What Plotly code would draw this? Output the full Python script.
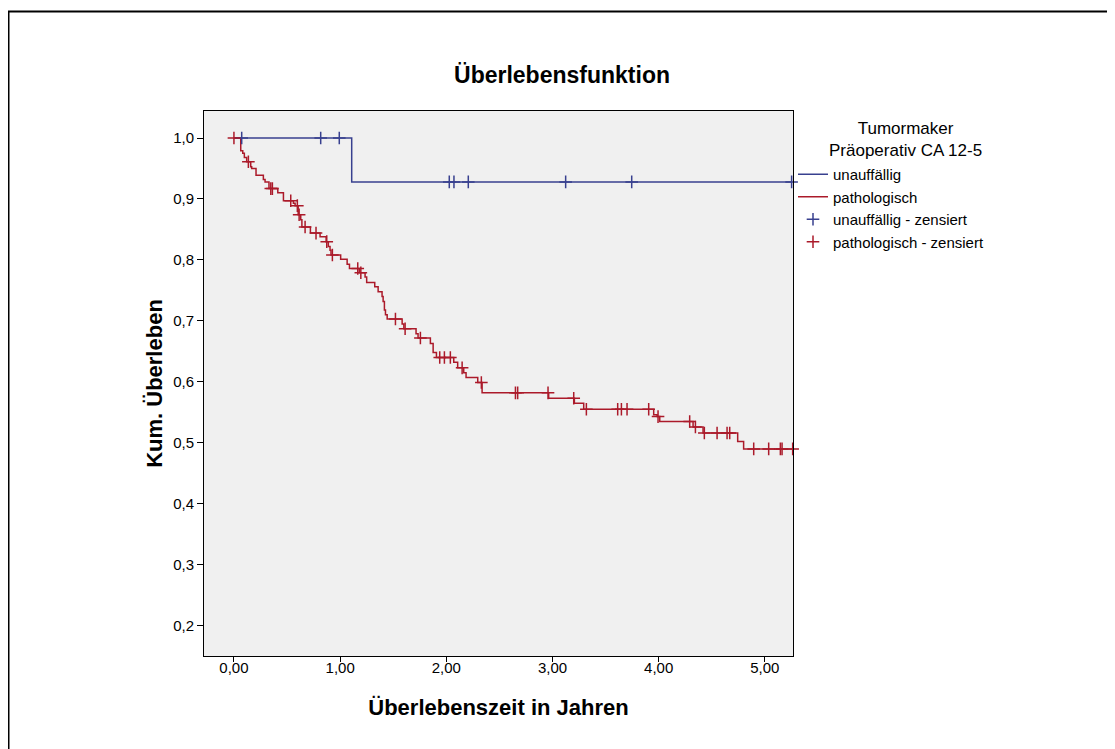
import numpy as np
import plotly.graph_objects as go

# ---- data ----
x_ticks = [0, 1, 2, 3, 4, 5]
y_ticks = [0.2, 0.3, 0.4, 0.5, 0.6, 0.7, 0.8, 0.9, 1.0]

blue_event_t = [1.109]
blue_event_s = [0.928]
blue_censor_t = [0.073, 0.817, 0.992, 2.028, 2.072, 2.207, 3.124, 3.746, 5.252]

red_event_t = [0.064, 0.083, 0.098, 0.120, 0.158, 0.167, 0.208, 0.277, 0.293, 0.330,
               0.413, 0.466, 0.560, 0.576, 0.605, 0.629, 0.640, 0.720, 0.811, 0.868,
               0.889, 0.905, 0.914, 1.005, 1.066, 1.088, 1.180, 1.235, 1.250, 1.326,
               1.358, 1.395, 1.405, 1.417, 1.427, 1.443, 1.584, 1.600, 1.715, 1.734,
               1.850, 1.876, 1.907, 2.070, 2.107, 2.164, 2.186, 2.296, 2.337, 2.964,
               3.206, 3.294, 3.953, 3.985, 4.010, 4.324, 4.418, 4.744, 4.800]
red_event_s = [0.979, 0.975, 0.968, 0.961, 0.953, 0.950, 0.939, 0.932, 0.928, 0.917,
               0.910, 0.897, 0.893, 0.889, 0.874, 0.866, 0.854, 0.844, 0.838, 0.830,
               0.822, 0.816, 0.808, 0.801, 0.793, 0.786, 0.779, 0.772, 0.763, 0.756,
               0.748, 0.740, 0.732, 0.718, 0.710, 0.703, 0.695, 0.687, 0.679, 0.672,
               0.663, 0.648, 0.640, 0.632, 0.623, 0.615, 0.607, 0.599, 0.582, 0.573,
               0.565, 0.555, 0.546, 0.543, 0.535, 0.526, 0.516, 0.502, 0.490]
red_censor_t = [0.0, 0.136, 0.347, 0.362, 0.535, 0.597, 0.614, 0.670, 0.773, 0.874,
                0.927, 1.166, 1.195, 1.521, 1.612, 1.756, 1.938, 1.982, 2.038, 2.149,
                2.330, 2.651, 2.672, 2.958, 3.200, 3.319, 3.614, 3.649, 3.702, 3.906,
                3.994, 4.292, 4.346, 4.430, 4.550, 4.644, 4.669, 4.895, 5.036, 5.146,
                5.162, 5.262]

BLUE = "#38408f"
RED = "#ab1a2a"
FONT = "Liberation Sans, Arial, sans-serif"


def step_xy(ev_t, ev_s, end_t):
    xs = [0.0] + list(ev_t) + [end_t]
    ys = [1.0] + list(ev_s) + [ev_s[-1]]
    return xs, ys


def surv_at(ev_t, ev_s, times):
    idx = np.searchsorted(np.array(ev_t), np.array(times), side="right")
    levels = np.array([1.0] + list(ev_s))
    return levels[idx]


bx, by = step_xy(blue_event_t, blue_event_s, max(blue_censor_t))
rx, ry = step_xy(red_event_t, red_event_s, max(red_censor_t))

fig = go.Figure()
fig.add_trace(go.Scatter(x=bx, y=by, mode="lines", line=dict(color=BLUE, width=1.5, shape="hv"),
                         name="unauffällig", hoverinfo="skip"))
fig.add_trace(go.Scatter(x=rx, y=ry, mode="lines", line=dict(color=RED, width=1.5, shape="hv"),
                         name="pathologisch", hoverinfo="skip"))
fig.add_trace(go.Scatter(x=blue_censor_t, y=surv_at(blue_event_t, blue_event_s, blue_censor_t),
                         mode="markers",
                         marker=dict(symbol="cross-thin", size=9, line=dict(color=BLUE, width=1.5)),
                         name="unauffällig - zensiert", cliponaxis=False))
fig.add_trace(go.Scatter(x=red_censor_t, y=surv_at(red_event_t, red_event_s, red_censor_t),
                         mode="markers",
                         marker=dict(symbol="cross-thin", size=9, line=dict(color=RED, width=1.5)),
                         name="pathologisch - zensiert", cliponaxis=False))

# figure size matches the page area (the page adds an 8px body margin)
W, H = 1107, 741
# plot area in figure pixels
L, R, T, B = 196, 785, 103, 648
pw, ph = R - L, B - T


def px2paper_x(px):
    return (px - L) / pw


def px2paper_y(py):
    return (B - py) / ph


fig.update_layout(
    width=W, height=H,
    margin=dict(l=L, r=W - R, t=T, b=H - B, autoexpand=False),
    paper_bgcolor="white",
    plot_bgcolor="#f0f0f0",
    separators=",.",
    font=dict(family=FONT, size=15, color="black"),
    title=dict(text="<b>Überlebensfunktion</b>", x=554 / W, xanchor="center",
               y=1 - 67 / H, yanchor="middle", yref="container",
               font=dict(size=23, family=FONT, color="black")),
    showlegend=True,
    legend=dict(xref="container", yref="container", x=785 / W, y=1 - 150 / H,
                xanchor="left", yanchor="top", bgcolor="rgba(0,0,0,0)",
                font=dict(size=15, family=FONT, color="black"),
                tracegroupgap=0, itemwidth=30, traceorder="normal"),
    xaxis=dict(range=[-0.282, 5.265], tickvals=x_ticks, tickformat=".2f",
               showgrid=False, zeroline=False, showline=True, linecolor="black",
               linewidth=1, mirror=True, ticks="outside", ticklen=5, tickcolor="black",
               ticklabelstandoff=-7,
               tickfont=dict(size=15, family=FONT),
               title=dict(text="<b>Überlebenszeit in Jahren</b>", standoff=24,
                          font=dict(size=22, family=FONT))),
    yaxis=dict(range=[0.1503, 1.0443], tickvals=y_ticks, tickformat=".1f",
               showgrid=False, zeroline=False, showline=True, linecolor="black",
               linewidth=1, mirror=True, ticks="outside", ticklen=6, tickcolor="black",
               tickfont=dict(size=15, family=FONT),
               title=dict(text="<b>Kum. Überleben</b>", standoff=4,
                          font=dict(size=22, family=FONT))),
)

# legend title (two centred lines)
fig.add_annotation(text="Tumormaker<br>Präoperativ CA 12-5", xref="paper", yref="paper",
                   x=px2paper_x(897), y=px2paper_y(132), xanchor="center", yanchor="middle",
                   showarrow=False, align="center",
                   font=dict(size=17, family=FONT, color="black"))

# outer frame (left and top edges)
fig.add_shape(type="line", xref="paper", yref="paper",
              x0=px2paper_x(0.5), y0=px2paper_y(H), x1=px2paper_x(0.5), y1=px2paper_y(3.5),
              line=dict(color="black", width=2))
fig.add_shape(type="line", xref="paper", yref="paper",
              x0=px2paper_x(-0.5), y0=px2paper_y(3.5), x1=px2paper_x(W), y1=px2paper_y(3.5),
              line=dict(color="black", width=2))

fig.write_html("out.html")
